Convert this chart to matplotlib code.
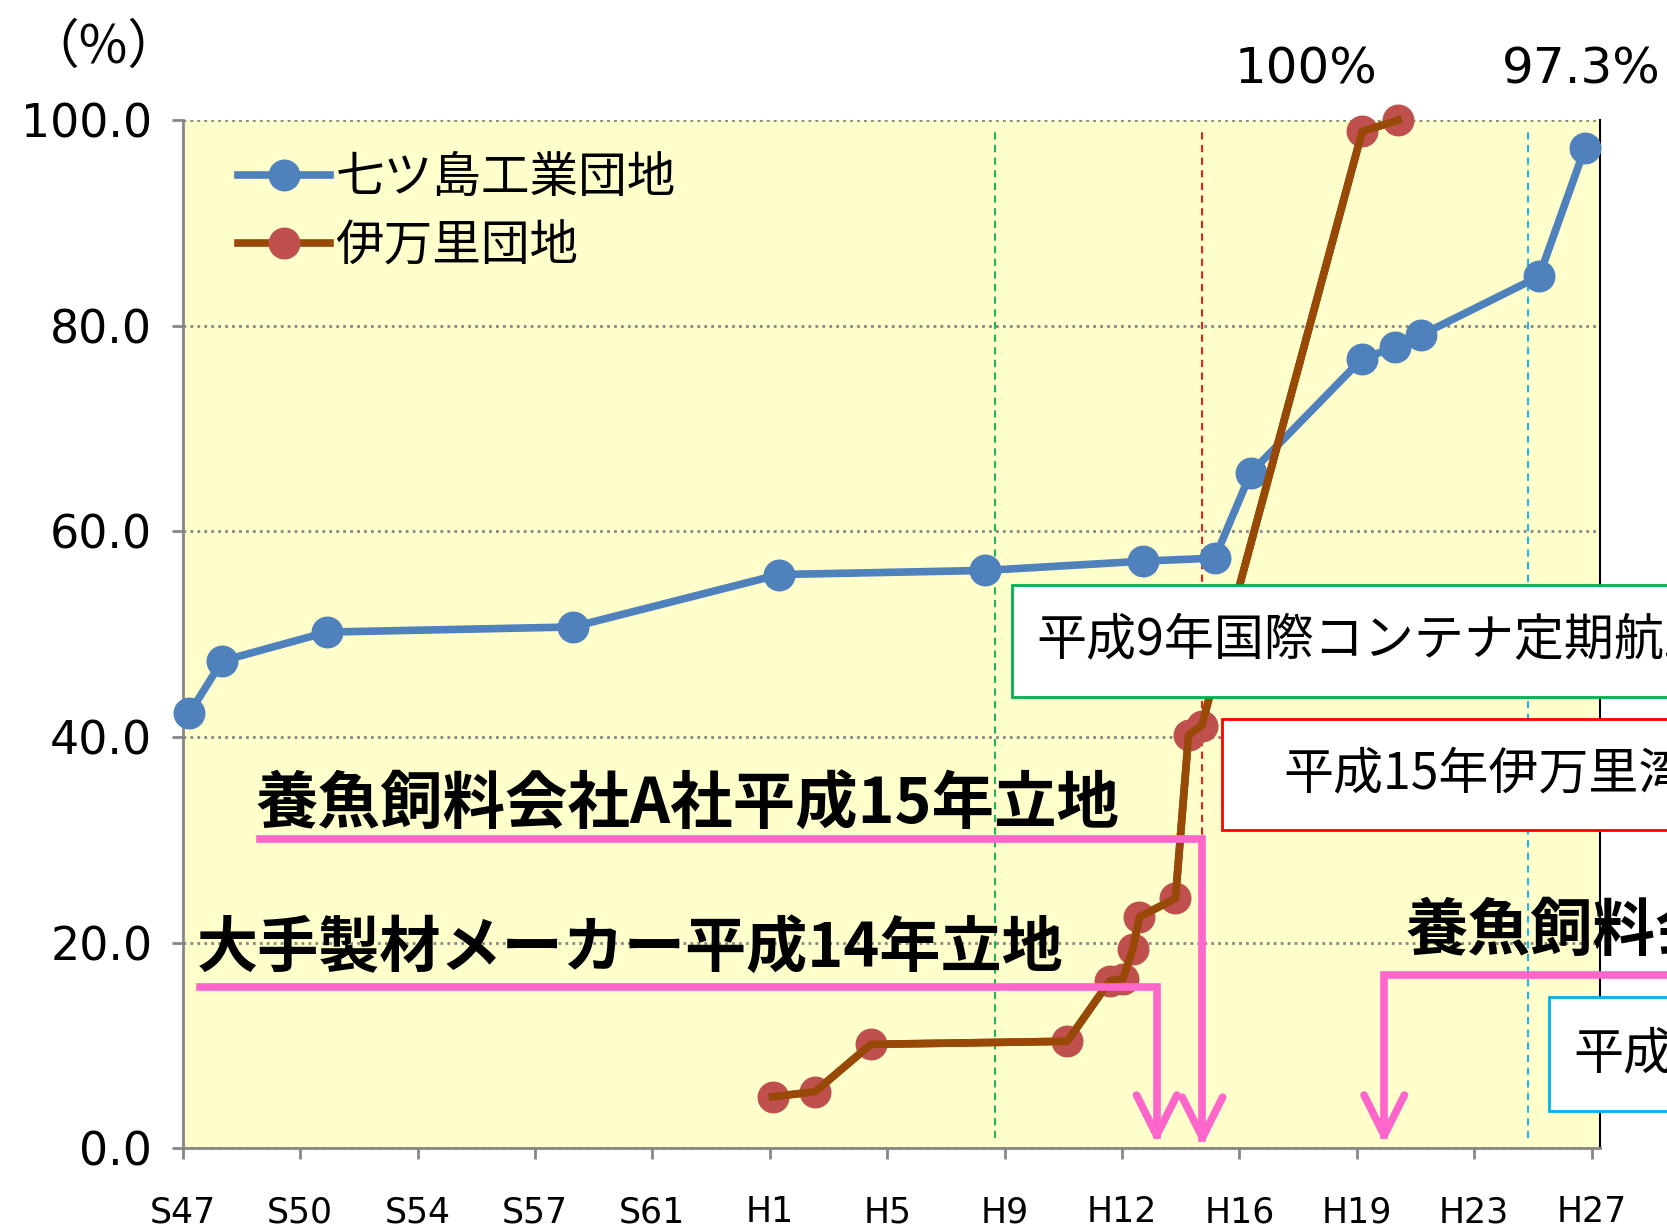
import matplotlib
matplotlib.use('Agg')
import matplotlib.pyplot as plt
from matplotlib.patches import Rectangle
from matplotlib.lines import Line2D

plt.rcParams['font.family'] = ['DejaVu Sans', 'Noto Sans CJK JP']
JP = ['Noto Sans CJK JP', 'DejaVu Sans']

# 七ツ島工業団地 (year, %)
nanatsu_year = [1972.2, 1973.2, 1976.4, 1983.9, 1990.2, 1996.5, 2001.3,
                2003.5, 2004.6, 2008.0, 2009.0, 2009.8, 2013.4, 2014.8]
nanatsu_rate = [42.3, 47.4, 50.2, 50.7, 55.8, 56.2, 57.1,
                57.4, 65.7, 76.8, 77.9, 79.1, 84.8, 97.3]
# 伊万里団地
imari_year = [1990.0, 1991.3, 1993.0, 1999.0, 2000.3, 2000.7, 2001.0,
              2001.2, 2002.3, 2002.7, 2003.1, 2008.0, 2009.1]
imari_rate = [5.0, 5.5, 10.1, 10.4, 16.3, 16.5, 19.4,
              22.5, 24.3, 40.2, 41.1, 98.9, 100.0]

tick_labels = ['S47', 'S50', 'S54', 'S57', 'S61', 'H1', 'H5', 'H9',
               'H12', 'H16', 'H19', 'H23', 'H27']
event_years = [1996.8, 2003.1, 2013.05]
event_colors = ['#00B050', '#FF0000', '#00B0F0']

W, H = 1568.0, 1156.0  # layout measured on this grid
def fx(x): return x / W
def fy(y): return 1 - y / H

fig = plt.figure(figsize=(16.67, 12.29), dpi=100)
ax = fig.add_axes([fx(172), fy(1080), (1505 - 172) / W, (1080 - 113) / H])
ax.set_facecolor('#FFFFCC')

x0, x1 = 1972, 2015
ax.set_xlim(x0, x1 + 0.26)
ax.set_ylim(0, 100)
ax.set_xticks([x0 + (x1 - x0) * k / 12 for k in range(13)])
ax.set_xticklabels(tick_labels, fontsize=25)
ax.set_yticks([0, 20, 40, 60, 80, 100])
ax.set_yticklabels(['%.1f' % v for v in [0, 20, 40, 60, 80, 100]], fontsize=33)
ax.tick_params(axis='x', length=8, width=2, color='#868686', pad=26)
ax.tick_params(axis='y', length=8, width=2, color='#868686', pad=14)
ax.grid(axis='y', linestyle=(0, (1, 1.5)), color='#868686', lw=2)
ax.set_axisbelow(True)
for s in ['left', 'bottom']:
    ax.spines[s].set_color('#868686')
    ax.spines[s].set_linewidth(2)
ax.spines['right'].set_color('black')
ax.spines['right'].set_linewidth(1.5)
ax.spines['top'].set_visible(False)

for yr, c in zip(event_years, event_colors):
    ax.axvline(yr, ymin=0.01, ymax=0.99, color=c, lw=1.3, ls=(0, (4, 3)), zorder=1)

ax.plot(nanatsu_year, nanatsu_rate, color='#4F81BD', lw=5.5, marker='o', ms=22,
        mfc='#4F81BD', mec='#4F81BD', clip_on=False, zorder=4, label='七ツ島工業団地')
ax.plot(imari_year, imari_rate, color='#984807', lw=5.5, marker='o', ms=22,
        mfc='#C0504D', mec='#C0504D', clip_on=False, zorder=4, label='伊万里団地')
ax.plot(imari_year, imari_rate, color='#984807', lw=5.5, clip_on=False, zorder=5)

leg = ax.legend(loc='upper left', bbox_to_anchor=(0.039, 0.968), frameon=False,
                prop={'family': JP, 'size': 35}, handlelength=1.9, handletextpad=0.1,
                borderpad=0, borderaxespad=0, labelspacing=0.4)

fig.text(fx(97), fy(45), '（%）', fontsize=38, family=JP, ha='center', va='center')
fig.text(fx(1228), fy(65), '100%', fontsize=36, ha='center', va='center')
fig.text(fx(1413), fy(65), '97.3%', fontsize=36, ha='left', va='center')

# event boxes
boxes = [(952, 550, 656, '#00B050', 975, '平成9年国際コンテナ定期航路開設'),
         (1149, 676, 781, '#FF0000', 1207, '平成15年伊万里湾大橋開通'),
         (1457, 938, 1045, '#00B0F0', 1480, '平成25年')]
for left, top, bot, ec, tx, txt in boxes:
    fig.add_artist(Rectangle((fx(left), fy(bot)), fx(W - left + 20), (bot - top) / H,
                             transform=fig.transFigure, facecolor='white',
                             edgecolor=ec, lw=2, zorder=6, clip_on=False))
    fig.text(fx(tx), fy((top + bot) / 2), txt, fontsize=36, family=JP,
             ha='left', va='center', zorder=7)

# pink connectors
pink = '#FF66CC'
def connector(path, tip_x, tip_y):
    xs = [fx(p[0]) for p in path]
    ys = [fy(p[1]) for p in path]
    fig.add_artist(Line2D(xs, ys, transform=fig.transFigure, color=pink, lw=5.5,
                          solid_joinstyle='miter', zorder=6))
    fig.add_artist(Line2D([fx(tip_x - 19), fx(tip_x), fx(tip_x + 19)],
                          [fy(tip_y - 38), fy(tip_y), fy(tip_y - 38)],
                          transform=fig.transFigure, color=pink, lw=5.5,
                          solid_capstyle='round', zorder=6))

connector([(245, 789), (1131, 789), (1131, 1070)], 1131, 1070)
connector([(188, 928), (1088, 928), (1088, 1068)], 1088, 1068)
connector([(1600, 917), (1302, 917), (1302, 1068)], 1302, 1068)

fig.text(fx(240), fy(757), '養魚飼料会社A社平成15年立地', fontsize=45, family=JP,
         weight='bold', ha='left', va='center', zorder=7)
fig.text(fx(185), fy(893), '大手製材メーカー平成14年立地', fontsize=44, family=JP,
         weight='bold', ha='left', va='center', zorder=7)
fig.text(fx(1322), fy(877), '養魚飼料会社B社平成20年立地', fontsize=45, family=JP,
         weight='bold', ha='left', va='center', zorder=7)

fig.savefig('out.png', dpi=100)
